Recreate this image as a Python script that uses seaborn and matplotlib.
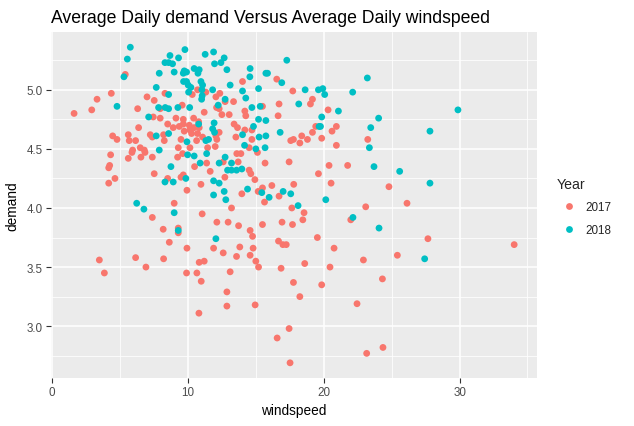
import pandas as pd
import matplotlib
matplotlib.use('Agg')
import matplotlib.pyplot as plt
from matplotlib.ticker import MultipleLocator
import seaborn as sns

# Points (2017 = red, 2018 = teal)
wind_2017 = [4.36, 6.99, 7.52, 3.31, 2.92, 1.62, 6.30, 7.96, 7.45, 7.96, 6.37, 4.46, 4.78, 5.61, 5.68, 6.15,
             7.23, 7.38, 8.21, 8.26, 6.49, 5.93, 6.79, 5.39, 8.31,
             4.31, 5.88, 6.54, 6.84, 7.38, 5.61, 4.24, 4.17, 7.52, 4.63, 4.17, 7.38, 8.18, 3.48, 6.15, 8.21,
             3.85, 6.91,
             14.02, 16.54, 10.71, 11.32, 12.35, 10.32, 12.06, 12.74, 13.36, 9.58, 12.11, 12.30, 14.19, 15.49,
             16.71, 11.20, 12.50, 13.04, 14.26, 16.64, 9.12, 9.66, 10.42, 10.79, 8.92, 9.36, 9.66, 10.10,
             10.46, 10.83, 9.73, 10.15, 10.27, 10.71, 9.49, 10.64, 11.08, 12.06, 12.30, 12.13, 13.40, 13.65,
             14.19, 14.71, 13.53, 14.71, 9.29, 10.15, 12.01, 11.45, 14.51, 8.51,
             9.61, 9.24, 11.38, 10.49, 11.64, 12.60, 12.72, 13.60, 13.90, 13.70, 14.51, 14.63, 14.93, 15.12,
             15.68, 17.45, 8.51, 9.49, 9.66, 10.96, 9.93, 13.97, 15.17, 15.49, 16.18, 16.71, 15.64, 8.99,
             13.21, 11.05, 12.13, 12.96, 13.73, 15.49, 16.93, 9.29, 9.29, 14.58, 14.76, 8.63, 9.93, 11.89,
             13.82, 14.80, 16.67, 16.99, 17.24, 12.60, 13.58, 14.58, 10.83, 11.20, 15.00,
             9.90, 10.66, 13.11, 15.20, 16.86, 10.98, 12.87, 12.87, 14.95, 10.81, 17.45, 16.57, 17.52,
             18.60, 20.46, 24.32, 17.77, 19.85, 18.24, 22.45, 24.36, 23.16,
             20.39, 21.76, 19.61, 17.79, 20.54, 24.80, 26.13, 23.09, 17.65, 18.55, 18.46, 17.70, 21.99,
             19.53, 20.76, 22.92, 25.42,
             27.67, 34.02,
             17.72, 19.17, 19.02, 20.32, 19.41, 20.93, 20.61, 19.17, 18.38, 17.77, 17.57, 18.80, 18.24,
             19.85, 23.24, 20.93]
demand_2017 = [4.97, 4.94, 4.91, 4.92, 4.83, 4.80, 4.84, 4.84, 4.77, 4.76, 4.68, 4.61, 4.58, 4.62, 4.57, 4.57,
               4.62, 4.60, 4.62, 4.57, 4.51, 4.49, 4.49, 5.13, 4.97,
               4.45, 4.47, 4.43, 4.47, 4.43, 4.42, 4.36, 4.34, 4.29, 4.25, 4.21, 3.92, 3.82, 3.56, 3.58, 3.57,
               3.45, 3.50,
               5.07, 5.09, 5.00, 4.98, 4.97, 4.96, 4.94, 4.90, 4.90, 4.87, 4.85, 4.84, 4.82, 4.86,
               4.88, 4.81, 4.79, 4.79, 4.78, 4.78, 4.76, 4.75, 4.76, 4.73, 4.68, 4.69, 4.71, 4.70,
               4.68, 4.68, 4.65, 4.66, 4.63, 4.63, 4.58, 4.57, 4.60, 4.61, 4.64, 4.58, 4.71, 4.68,
               4.66, 4.66, 4.60, 4.58, 4.51, 4.51, 4.52, 4.51, 4.51, 4.71,
               4.46, 4.43, 4.38, 4.35, 4.31, 4.39, 4.26, 4.46, 4.46, 4.39, 4.32, 4.29, 4.24, 4.47,
               4.38, 4.39, 4.25, 4.26, 4.28, 4.20, 4.15, 4.12, 4.14, 4.17, 4.19, 4.10, 4.05, 4.04,
               4.00, 3.95, 3.88, 3.88, 3.85, 3.86, 3.88, 3.83, 3.79, 3.81, 3.76, 3.71, 3.66, 3.66,
               3.67, 3.66, 3.72, 3.69, 3.69, 3.62, 3.59, 3.60, 3.54, 3.55, 3.55,
               3.45, 3.45, 3.46, 3.50, 3.49, 3.38, 3.29, 3.17, 3.18, 3.11, 2.98, 2.90, 2.69,
               3.53, 3.50, 3.40, 3.37, 3.35, 3.25, 3.19, 2.82, 2.77,
               4.36, 4.36, 4.29, 4.20, 4.21, 4.18, 4.04, 4.01, 4.00, 3.96, 3.90, 3.86, 3.90,
               3.75, 3.66, 3.56, 3.60,
               3.74, 3.69,
               4.99, 4.92, 4.88, 4.83, 4.69, 4.69, 4.65, 4.64, 4.61, 4.58, 4.57, 4.58, 4.55,
               4.59, 4.58, 4.53]

wind_2018 = [5.76, 5.54, 5.29, 7.89, 8.31, 7.67, 4.78, 7.84, 8.33, 7.11, 7.67, 7.89,
             8.31, 6.23, 6.76,
             9.78, 8.68, 9.31, 11.27, 11.89, 12.43, 12.67, 11.96, 8.58, 8.87, 8.99, 9.73, 9.90, 9.66,
             10.46, 10.83, 10.74, 12.87, 14.58, 14.56, 15.74, 15.86, 17.28, 16.91, 13.11, 15.20, 9.68,
             9.90, 10.02, 10.96, 11.08, 10.22, 10.05, 11.03, 11.05, 11.01, 11.82, 14.02, 14.26, 8.58,
             12.74, 12.23, 8.58, 9.26, 10.13, 14.71, 15.32, 15.20, 15.74, 14.83, 11.93, 11.82, 11.96,
             11.52, 11.32, 10.79, 14.02, 15.24, 15.74, 16.79, 9.93, 8.58, 14.17, 15.68, 15.00,
             9.98, 10.46, 11.38, 12.74, 8.75, 10.90, 12.30, 13.21, 12.92, 13.21, 13.58, 13.97, 9.85,
             8.92, 11.89, 12.30, 14.39, 12.67, 11.89, 12.79, 15.44, 15.98, 17.01, 8.99, 9.29, 12.06,
             23.70, 25.59, 17.57, 20.15, 18.11, 22.15, 24.07,
             27.82, 27.43, 29.88, 27.82,
             23.21, 22.13, 18.63, 19.61, 19.93, 20.07, 18.16, 21.08, 19.85, 24.04, 19.66, 19.76, 23.46,
             23.36]
demand_2018 = [5.36, 5.26, 5.11, 5.14, 5.23, 5.02, 4.86, 4.85, 4.85, 4.77, 4.61, 4.49,
               4.22, 4.04, 3.99,
               5.34, 5.29, 5.27, 5.30, 5.32, 5.23, 5.27, 5.22, 5.23, 5.22, 5.15, 5.16, 5.15, 5.14,
               5.18, 5.17, 5.14, 5.17, 5.18, 5.11, 5.14, 5.14, 5.25, 5.06, 5.04, 5.01, 5.07,
               5.07, 5.04, 5.07, 5.04, 5.02, 4.98, 5.00, 4.95, 4.92, 5.00, 4.99, 4.93, 4.96,
               4.92, 4.87, 4.84, 4.85, 4.85, 4.85, 4.86, 4.75, 4.74, 4.69, 4.72, 4.67, 4.64,
               4.58, 4.57, 4.71, 4.62, 4.60, 4.61, 4.64, 4.56, 4.63, 4.53, 4.51, 4.50,
               4.45, 4.44, 4.46, 4.43, 4.35, 4.38, 4.38, 4.38, 4.32, 4.32, 4.32, 4.33, 4.25,
               4.22, 4.23, 4.21, 4.16, 4.14, 4.11, 4.07, 4.13, 4.09, 4.14, 3.96, 3.81, 3.74,
               4.35, 4.31, 4.12, 4.07, 4.02, 3.92, 3.83,
               4.21, 3.57, 4.83, 4.65,
               5.10, 4.98, 5.00, 5.00, 5.01, 4.96, 4.88, 4.82, 4.77, 4.76, 4.69, 4.69, 4.68,
               4.51]

df = pd.concat([
    pd.DataFrame({'windspeed': wind_2017, 'demand': demand_2017, 'Year': '2017'}),
    pd.DataFrame({'windspeed': wind_2018, 'demand': demand_2018, 'Year': '2018'}),
], ignore_index=True)

sns.set_theme(style='darkgrid')
plt.rcParams['font.family'] = ['Liberation Sans', 'DejaVu Sans']

fig, ax = plt.subplots(figsize=(6.34, 4.27), dpi=100)
fig.subplots_adjust(left=0.080, right=0.847, bottom=0.112, top=0.923)

sns.scatterplot(data=df, x='windspeed', y='demand', hue='Year',
                palette={'2017': '#F8766D', '2018': '#00BFC4'},
                s=24, linewidth=0, ax=ax)

ax.set_facecolor('#EBEBEB')
ax.set_xlim(-0.1, 35.7)
ax.set_ylim(2.56, 5.49)
ax.xaxis.set_major_locator(MultipleLocator(10))
ax.xaxis.set_minor_locator(MultipleLocator(5))
ax.yaxis.set_major_locator(MultipleLocator(0.5))
ax.yaxis.set_minor_locator(MultipleLocator(0.25))
ax.grid(which='major', color='white', linewidth=1.1)
ax.grid(which='minor', color='white', linewidth=0.55)
ax.set_axisbelow(True)
for sp in ax.spines.values():
    sp.set_visible(False)
ax.tick_params(which='major', length=3.5, width=0.8, color='#333333',
               labelsize=8.4, labelcolor='#4D4D4D', pad=2, bottom=True, left=True)
ax.tick_params(which='minor', length=0, bottom=False, left=False)

ax.set_title('Average Daily demand Versus Average Daily windspeed', loc='left',
             fontsize=12.7, color='black', pad=7)
ax.set_xlabel('windspeed', fontsize=9.8, color='black', labelpad=4)
ax.set_ylabel('demand', fontsize=9.8, color='black')
ax.yaxis.label.set_va('center')
ax.yaxis.set_label_coords(-0.078, 0.5)

leg = ax.legend(title='Year', loc='center left', bbox_to_anchor=(0.862, 0.515),
                bbox_transform=fig.transFigure, frameon=False, fontsize=8.4,
                title_fontsize=10.2, markerscale=1.0, handletextpad=0.4,
                labelspacing=0.9, alignment='left')

fig.savefig('out.png', dpi=100)
